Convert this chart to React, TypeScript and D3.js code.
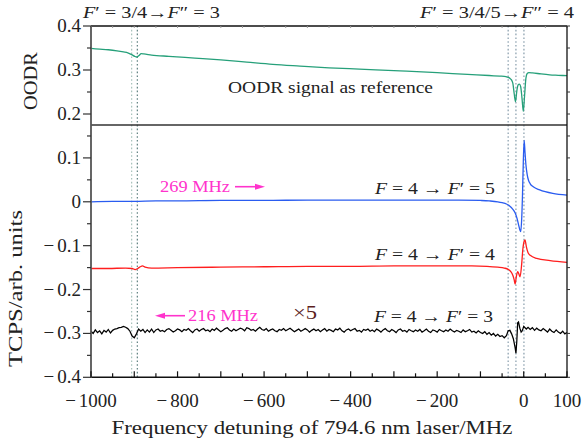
import React from 'react';
import * as d3 from 'd3';

const W = 585;
const H = 443;

// OODR reference signal (top panel)
const oodr: [number, number][] = [
  [-1000, 0.349], [-980, 0.3475], [-960, 0.346], [-940, 0.3435], [-925, 0.341], [-915, 0.339],
  [-906, 0.335], [-899, 0.331], [-894, 0.3295], [-889, 0.333], [-884, 0.337], [-878, 0.3365],
  [-860, 0.334], [-820, 0.331], [-760, 0.327], [-700, 0.323], [-640, 0.318], [-580, 0.313],
  [-517, 0.309], [-450, 0.305], [-380, 0.302], [-286, 0.298], [-200, 0.294], [-130, 0.290],
  [-80, 0.2875], [-55, 0.286], [-45, 0.2855], [-38, 0.284], [-32, 0.281], [-28, 0.277],
  [-25, 0.269], [-22, 0.246], [-19, 0.228], [-16, 0.252], [-13, 0.266], [-10, 0.268],
  [-7, 0.262], [-4, 0.236], [-1, 0.206], [2, 0.242], [5, 0.281], [8, 0.292], [12, 0.294],
  [20, 0.2935], [40, 0.291], [60, 0.289], [80, 0.288], [100, 0.287],
];

// F=4 -> F'=5 (blue)
const tcps5: [number, number][] = [
  [-1000, 0.0], [-950, 0.001], [-900, 0.001], [-850, 0.002], [-800, 0.002], [-700, 0.003],
  [-600, 0.003], [-500, 0.004], [-400, 0.004], [-300, 0.004], [-200, 0.004], [-150, 0.004],
  [-100, 0.003], [-80, 0.002], [-60, 0.0], [-50, -0.002], [-40, -0.005], [-32, -0.010],
  [-26, -0.016], [-20, -0.025], [-16, -0.036], [-12, -0.052], [-9, -0.064], [-7, -0.068],
  [-5, -0.045], [-3, 0.010], [-1, 0.090], [1, 0.140], [3, 0.112], [5, 0.085], [8, 0.062],
  [11, 0.049], [15, 0.041], [22, 0.034], [37, 0.027], [67, 0.019], [100, 0.015],
];

// F=4 -> F'=4 (red)
const tcps4: [number, number][] = [
  [-1000, -0.152], [-960, -0.152], [-920, -0.151], [-905, -0.152], [-898, -0.1545],
  [-892, -0.152], [-886, -0.148], [-881, -0.146], [-875, -0.149], [-860, -0.151],
  [-800, -0.150], [-700, -0.149], [-600, -0.148], [-500, -0.147], [-400, -0.147],
  [-300, -0.146], [-200, -0.146], [-120, -0.146], [-85, -0.147], [-60, -0.149],
  [-45, -0.151], [-36, -0.154], [-30, -0.159], [-25, -0.168], [-22, -0.178], [-20, -0.1875],
  [-17, -0.170], [-14, -0.159], [-11, -0.165], [-8.5, -0.171], [-5, -0.145], [-2, -0.108],
  [1, -0.090], [3, -0.087], [6, -0.102], [10, -0.116], [15, -0.122], [30, -0.129],
  [61, -0.134], [100, -0.138],
];

// F=4 -> F'=3 (black, x5), -1000 .. -50 MHz every 5 MHz
const tcps3Main: number[] = [
  -0.295, -0.300, -0.292, -0.298, -0.294, -0.301, -0.293, -0.297, -0.291, -0.299,
  -0.293, -0.290, -0.289, -0.287, -0.286, -0.284, -0.286, -0.289, -0.295, -0.306,
  -0.310, -0.301, -0.290, -0.295, -0.291, -0.298, -0.292, -0.297, -0.290, -0.298,
  -0.292, -0.290, -0.295, -0.293, -0.296, -0.291, -0.289, -0.293, -0.297, -0.294,
  -0.290, -0.292, -0.296, -0.291, -0.293, -0.289, -0.294, -0.298, -0.292, -0.290,
  -0.295, -0.291, -0.289, -0.294, -0.292, -0.296, -0.290, -0.293, -0.288, -0.292,
  -0.296, -0.293, -0.289, -0.287, -0.292, -0.295, -0.290, -0.294, -0.291, -0.288,
  -0.290, -0.294, -0.287, -0.289, -0.293, -0.291, -0.295, -0.290, -0.286, -0.291,
  -0.293, -0.289, -0.295, -0.292, -0.290, -0.294, -0.296, -0.291, -0.293, -0.289,
  -0.294, -0.291, -0.288, -0.292, -0.296, -0.293, -0.290, -0.295, -0.292, -0.289,
  -0.292, -0.297, -0.293, -0.290, -0.294, -0.291, -0.296, -0.292, -0.289, -0.295,
  -0.291, -0.293, -0.296, -0.290, -0.292, -0.288, -0.294, -0.297, -0.292, -0.290,
  -0.294, -0.291, -0.289, -0.295, -0.293, -0.297, -0.291, -0.293, -0.290, -0.295,
  -0.292, -0.296, -0.290, -0.293, -0.297, -0.292, -0.289, -0.294, -0.296, -0.291,
  -0.294, -0.298, -0.292, -0.290, -0.295, -0.293, -0.297, -0.291, -0.294, -0.296,
  -0.292, -0.295, -0.291, -0.297, -0.294, -0.290, -0.295, -0.298, -0.292, -0.294,
  -0.297, -0.291, -0.294, -0.296, -0.292, -0.295, -0.290, -0.294, -0.297, -0.293,
  -0.295, -0.298, -0.292, -0.296, -0.294, -0.291, -0.297, -0.295, -0.299, -0.294,
  -0.298, -0.300, -0.296, -0.302, -0.298, -0.304, -0.300, -0.306, -0.302, -0.307,
  -0.305,
];
const tcps3Tail: [number, number][] = [
  [-45, -0.310], [-40, -0.305], [-36, -0.294], [-32, -0.293], [-28, -0.301], [-24, -0.312],
  [-20, -0.332], [-18, -0.345], [-16, -0.318], [-14, -0.276], [-12, -0.274], [-9, -0.288],
  [-6, -0.297], [-4, -0.295], [-2, -0.290], [0, -0.284], [3, -0.287], [6, -0.290],
  [10, -0.286], [15, -0.291], [20, -0.287], [25, -0.293], [30, -0.288], [35, -0.292],
  [40, -0.294], [45, -0.289], [50, -0.293], [55, -0.297], [60, -0.290], [65, -0.295],
  [70, -0.298], [75, -0.292], [80, -0.297], [85, -0.300], [90, -0.295], [95, -0.301],
  [100, -0.298],
];

const markerLines = [-906, -893, -36, -18, 0.5];
const markerColors = ['#9fbcb4', '#4f7474', '#7b93a3', '#7b93a3', '#7b93a3'];
const xTickLabels = [-1000, -800, -600, -400, -200, 0, 100];
const xMinorTicks = d3.range(-1000, 101, 50);
const topYTicks = [0.2, 0.3, 0.4];
const topYMinor = [0.2, 0.25, 0.3, 0.35, 0.4];
const botYTicks = [-0.4, -0.3, -0.2, -0.1, 0, 0.1];
const botYMinor = [-0.4, -0.35, -0.3, -0.25, -0.2, -0.15, -0.1, -0.05, 0, 0.05, 0.1, 0.15];

const FONT = "'Liberation Serif', 'Times New Roman', serif";

const x = d3.scaleLinear().domain([-1000, 100]).range([91, 567]);
const yTop = d3.scaleLinear().domain([0.175, 0.4]).range([125, 26]);
const yBot = d3.scaleLinear().domain([-0.4, 0.175]).range([377.3, 125]);

const lineTop = d3.line<[number, number]>().x(d => x(d[0])).y(d => yTop(d[1])).curve(d3.curveMonotoneX);
const lineBotSmooth = d3.line<[number, number]>().x(d => x(d[0])).y(d => yBot(d[1])).curve(d3.curveMonotoneX);
const lineBot = d3.line<[number, number]>().x(d => x(d[0])).y(d => yBot(d[1]));

function Num({ v, anchor, px, py, size }: { v: number; anchor: string; px: number; py: number; size: number }) {
  const s = String(Math.abs(v));
  return (
    <text x={px} y={py} textAnchor={anchor} fontFamily={FONT} fontSize={size} fill="#222">
      {v < 0 ? (<><tspan>−</tspan><tspan dx={3}>{s}</tspan></>) : s}
    </text>
  );
}

function Arrow({ x1, x2, y, color }: { x1: number; x2: number; y: number; color: string }) {
  const dir = Math.sign(x2 - x1);
  const hl = 10;
  const hw = 3;
  return (
    <g>
      <line x1={x1} y1={y} x2={x2 - dir * hl} y2={y} stroke={color} strokeWidth={1.6} />
      <path d={`M${x2},${y} L${x2 - dir * hl},${y - hw} L${x2 - dir * hl},${y + hw} Z`} fill={color} />
    </g>
  );
}

export default function App() {
  const black: [number, number][] = d3.range(-1000, -45, 5).map((xv, i) => [xv, tcps3Main[i]] as [number, number]).concat(tcps3Tail);
  const it = { fontStyle: 'italic' as const };
  return (
    <svg width={W} height={H} style={{ position: 'absolute', left: 0, top: 0, background: '#fff' }}>
      <rect x={0} y={0} width={W} height={H} fill="#fff" />
      {/* marker dotted lines */}
      {markerLines.map((m, i) => (
        <line key={i} x1={x(m)} x2={x(m)} y1={26} y2={377} stroke={markerColors[i]} strokeWidth={1.1} strokeDasharray="1.6,2.2" />
      ))}
      {/* data */}
      <path d={lineTop(oodr) || ''} fill="none" stroke="#26a07a" strokeWidth={1.3} />
      <path d={lineBotSmooth(tcps5) || ''} fill="none" stroke="#2a5cf0" strokeWidth={1.3} />
      <path d={lineBotSmooth(tcps4) || ''} fill="none" stroke="#ff1e1e" strokeWidth={1.3} />
      <path d={lineBot(black) || ''} fill="none" stroke="#000" strokeWidth={1.25} />

      {/* frame */}
      <line x1={91} x2={567} y1={26} y2={26} stroke="#111" strokeWidth={1.5} />
      {xMinorTicks.map((t, i) => (
        <line key={'tt' + i} x1={x(t)} x2={x(t)} y1={26} y2={28} stroke="#999" strokeWidth={1} />
      ))}
      <line x1={91} x2={567} y1={125} y2={125} stroke="#333" strokeWidth={1.5} />
      <line x1={91} x2={567} y1={377.3} y2={377.3} stroke="#111" strokeWidth={1.5} />
      <line x1={91} x2={91} y1={26} y2={378} stroke="#555" strokeWidth={1.8} />
      <line x1={567} x2={567} y1={26} y2={378} stroke="#111" strokeWidth={1.3} />

      {/* bottom ticks */}
      {xMinorTicks.map((t, i) => (
        <line key={'xb' + i} x1={x(t)} x2={x(t)} y1={377.3} y2={377.3 - (t % 100 === 0 ? 6 : 4)} stroke="#111" strokeWidth={1.2} />
      ))}
      {xTickLabels.map((t, i) => (
        <Num key={'xl' + i} v={t} anchor="middle" px={x(t)} py={406.5} size={19} />
      ))}

      {/* left ticks top */}
      {topYMinor.map((t, i) => {
        const major = topYTicks.includes(t);
        return <line key={'lt' + i} x1={91} x2={91 - (major ? 8 : 4)} y1={yTop(t)} y2={yTop(t)} stroke="#333" strokeWidth={1.2} />;
      })}
      {topYTicks.map((t, i) => (
        <Num key={'ltl' + i} v={t} anchor="end" px={81} py={yTop(t) + 6} size={19} />
      ))}
      {/* left ticks bottom */}
      {botYMinor.map((t, i) => {
        const major = botYTicks.includes(t);
        return <line key={'lb' + i} x1={91} x2={91 - (major ? 8 : 4)} y1={yBot(t)} y2={yBot(t)} stroke="#333" strokeWidth={1.2} />;
      })}
      {botYTicks.map((t, i) => (
        <Num key={'lbl' + i} v={t} anchor="end" px={81} py={yBot(t) + 6} size={19} />
      ))}
      {/* right ticks */}
      {topYMinor.map((t, i) => (
        <line key={'rt' + i} x1={567} x2={570} y1={yTop(t)} y2={yTop(t)} stroke="#333" strokeWidth={1} />
      ))}
      {botYMinor.map((t, i) => (
        <line key={'rb' + i} x1={567} x2={570} y1={yBot(t)} y2={yBot(t)} stroke="#333" strokeWidth={1} />
      ))}

      {/* axis titles */}
      <text x={312} y={433.5} textAnchor="middle" fontFamily={FONT} fontSize={19} fill="#222" textLength={401} lengthAdjust="spacingAndGlyphs">
        Frequency detuning of 794.6 nm laser/MHz
      </text>
      <text transform="translate(22,288.5) rotate(-90)" textAnchor="middle" fontFamily={FONT} fontSize={19} fill="#222" textLength={157} lengthAdjust="spacingAndGlyphs">
        TCPS/arb. units
      </text>
      <text transform="translate(36.5,81) rotate(-90)" textAnchor="middle" fontFamily={FONT} fontSize={19} fill="#222" textLength={58} lengthAdjust="spacingAndGlyphs">
        OODR
      </text>

      {/* top labels */}
      <text x={83} y={18} fontFamily={FONT} fontSize={16.5} fill="#222" textLength={137} lengthAdjust="spacingAndGlyphs">
        <tspan style={it}>F</tspan>′ = 3/4→<tspan style={it}>F</tspan>″ = 3
      </text>
      <text x={420} y={18} fontFamily={FONT} fontSize={16.5} fill="#222" textLength={154} lengthAdjust="spacingAndGlyphs">
        <tspan style={it}>F</tspan>′ = 3/4/5→<tspan style={it}>F</tspan>″ = 4
      </text>
      <text x={228} y={92.5} fontFamily={FONT} fontSize={16} fill="#222" textLength={205} lengthAdjust="spacingAndGlyphs">
        OODR signal as reference
      </text>

      {/* series labels */}
      <text x={375} y={194} fontFamily={FONT} fontSize={17} fill="#222" textLength={120} lengthAdjust="spacingAndGlyphs">
        <tspan style={it}>F</tspan> = 4 → <tspan style={it}>F</tspan>′ = 5
      </text>
      <text x={375} y={260} fontFamily={FONT} fontSize={17} fill="#222" textLength={120} lengthAdjust="spacingAndGlyphs">
        <tspan style={it}>F</tspan> = 4 → <tspan style={it}>F</tspan>′ = 4
      </text>
      <text x={374} y={321.5} fontFamily={FONT} fontSize={17} fill="#222" textLength={119} lengthAdjust="spacingAndGlyphs">
        <tspan style={it}>F</tspan> = 4 → <tspan style={it}>F</tspan>′ = 3
      </text>

      {/* annotations */}
      <text x={160} y={191.5} fontFamily={FONT} fontSize={17} fill="#ff33cc" textLength={70} lengthAdjust="spacingAndGlyphs">269 MHz</text>
      <Arrow x1={235} x2={265} y={186.7} color="#ff33cc" />
      <text x={188} y={320.5} fontFamily={FONT} fontSize={17} fill="#ff33cc" textLength={70} lengthAdjust="spacingAndGlyphs">216 MHz</text>
      <Arrow x1={185} x2={155} y={315.7} color="#ff33cc" />
      <text x={293} y={319.3} fontFamily={FONT} fontSize={18} fill="#5c1e1e" textLength={24} lengthAdjust="spacingAndGlyphs">×5</text>
    </svg>
  );
}
